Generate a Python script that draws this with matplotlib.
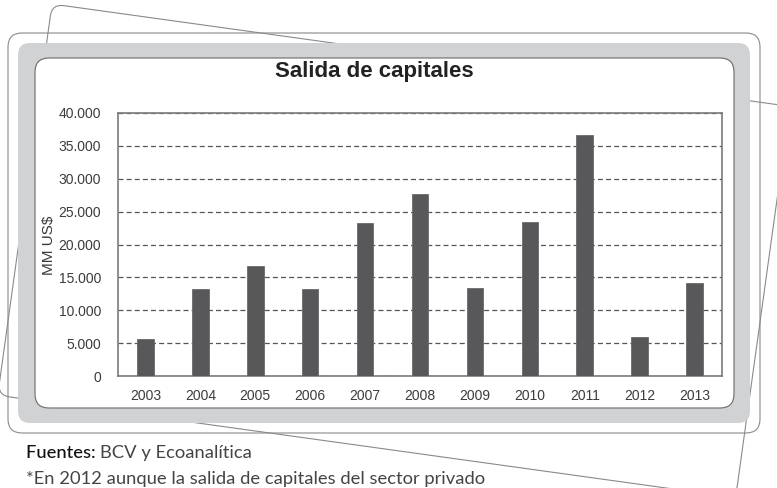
import matplotlib
matplotlib.use("Agg")
import matplotlib.pyplot as plt
from matplotlib.patches import FancyBboxPatch
from matplotlib.transforms import Affine2D

# datos (MM US$)
anios = ["2003", "2004", "2005", "2006", "2007", "2008", "2009", "2010", "2011", "2012", "2013"]
salida = [5600, 13200, 16700, 13200, 23200, 27700, 13400, 23400, 36600, 6000, 14100]
yticks = [0, 5000, 10000, 15000, 20000, 25000, 30000, 35000, 40000]
ytick_labels = ["0", "5.000", "10.000", "15.000", "20.000", "25.000", "30.000", "35.000", "40.000"]

W, H = 777, 488
fig = plt.figure(figsize=(W / 100, H / 100), dpi=100)
fig.patch.set_facecolor("white")

# fondo decorativo (coordenadas de imagen, y hacia abajo)
bg = fig.add_axes([0, 0, 1, 1], zorder=0)
bg.set_xlim(0, W)
bg.set_ylim(H, 0)
bg.axis("off")

# hoja inclinada detras
hoja = FancyBboxPatch((0, 0), 745, 395, boxstyle="round,pad=0,rounding_size=12",
                      fc="none", ec="#8a8a8a", lw=0.8,
                      transform=Affine2D().rotate_deg(7.9).translate(52, 4) + bg.transData)
bg.add_patch(hoja)

# marco fino exterior
bg.add_patch(FancyBboxPatch((8, 33), 752, 400, boxstyle="round,pad=0,rounding_size=14",
                            fc="none", ec="#8a8a8a", lw=0.8))
# panel gris
bg.add_patch(FancyBboxPatch((18, 43), 732, 380, boxstyle="round,pad=0,rounding_size=12",
                            fc="#d1d2d4", ec="none"))
# panel blanco interior
bg.add_patch(FancyBboxPatch((35, 58), 699, 350, boxstyle="round,pad=0,rounding_size=14",
                            fc="white", ec="#6a6a6a", lw=0.8))

bg.text(374, 71, "Salida de capitales", ha="center", va="center",
        fontsize=16, fontweight="bold", family="Liberation Sans", color="#222222")
bg.text(49, 245, "MM US$", ha="center", va="center", rotation=90,
        fontsize=11, family="Liberation Sans", color="#3a3a3a")

# pie de grafico
t1 = bg.text(26, 458, "Fuentes: ", ha="left", va="baseline", fontsize=13.2,
             family="Lato", fontweight="medium", color="#111111", zorder=5)
fig.canvas.draw()
bb = t1.get_window_extent()
x_sig = bg.transData.inverted().transform((bb.x1, bb.y0))[0]
bg.text(x_sig, 458, "BCV y Ecoanalítica", ha="left", va="baseline", fontsize=13.2,
        family="Lato", color="#444444", zorder=5)
bg.text(26, 484, "*En 2012 aunque la salida de capitales del sector privado", ha="left",
        va="baseline", fontsize=13.2, family="Lato", color="#444444", zorder=5)

# grafico de barras
ax = fig.add_axes([118 / W, 1 - 376 / H, 604 / W, 263 / H], zorder=1)
ax.set_facecolor("white")
x = range(len(anios))
ax.bar(x, salida, width=0.3, color="#58585a", edgecolor="#6a6a6a", linewidth=0.6, zorder=3)
ax.set_xlim(-0.5, len(anios) - 0.5)
ax.set_ylim(0, 40000)
ax.set_yticks(yticks)
ax.set_yticklabels(ytick_labels)
ax.set_xticks(list(x))
ax.set_xticklabels(anios)
ax.yaxis.grid(True, linestyle=(0, (4, 2.5)), color="#555555", linewidth=0.9, zorder=1)
ax.set_axisbelow(True)
ax.tick_params(length=0, labelsize=10, labelcolor="#3c3c3c", pad=12)
ax.tick_params(axis="x", pad=9)
for lbl in ax.get_xticklabels() + ax.get_yticklabels():
    lbl.set_family("Liberation Sans")
for s in ax.spines.values():
    s.set_color("#7a7a7a")
    s.set_linewidth(1.2)

fig.savefig("out.png", dpi=100)
